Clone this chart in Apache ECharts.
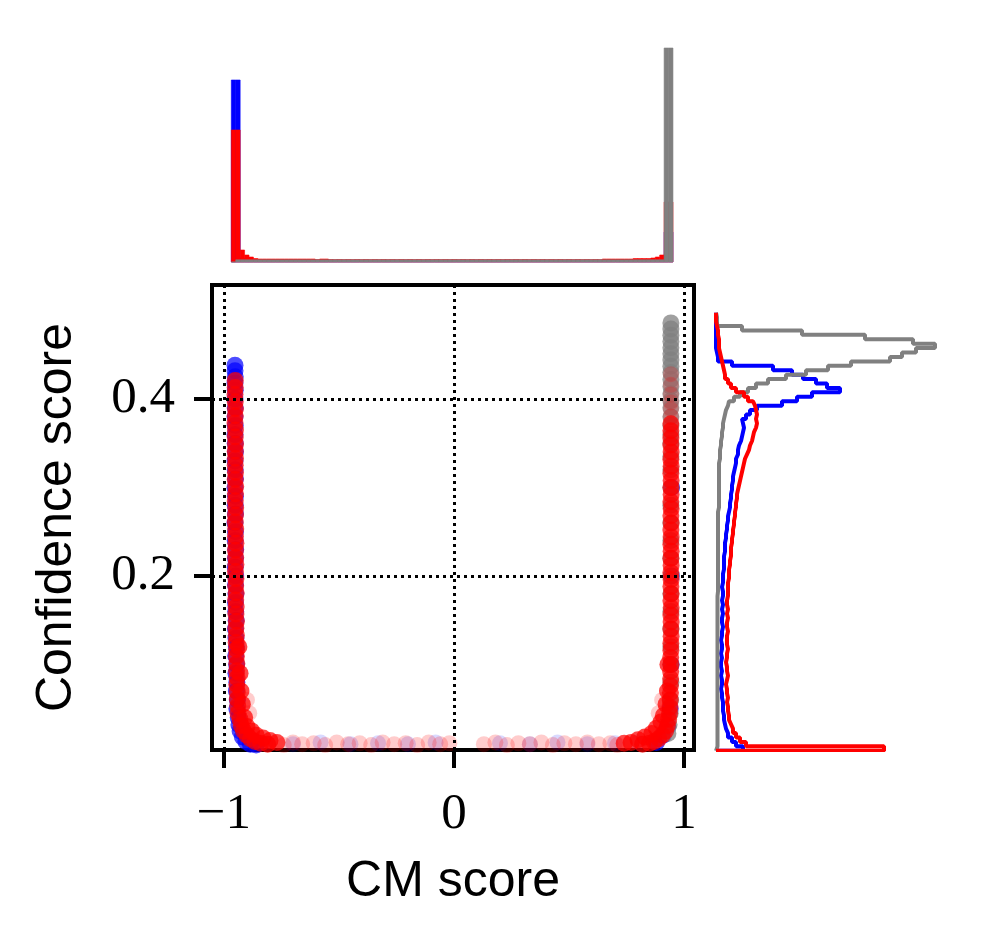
<!DOCTYPE html>
<html><head><meta charset="utf-8">
<script src="https://cdn.jsdelivr.net/npm/echarts@6/dist/echarts.min.js"></script>
<style>html,body{margin:0;padding:0;background:#fff}#c{width:984px;height:946px}</style>
</head><body><div id="c"></div>
<script>
// ---------- texts / ticks ----------
const xTicks = [-1, 0, 1];
const xTickLabels = ['\u22121', '0', '1'];
const yTicks = [0.2, 0.4];
const yTickLabels = ['0.2', '0.4'];
const xTitle = 'CM score';
const yTitle = 'Confidence score';

// ---------- scatter points [CM score, confidence] ----------
const blueMain = [[-0.952,0.438],[-0.952,0.432],[-0.951,0.425],[-0.952,0.418],[-0.951,0.41],[-0.952,0.40],[-0.951,0.39],[-0.952,0.38],[-0.951,0.37],[-0.952,0.36],[-0.951,0.35],[-0.95,0.34],[-0.952,0.33],[-0.951,0.32],[-0.95,0.31],[-0.952,0.30],[-0.95,0.29],[-0.951,0.28],[-0.95,0.27],[-0.952,0.26],[-0.95,0.25],[-0.951,0.24],[-0.949,0.23],[-0.95,0.22],[-0.951,0.21],[-0.949,0.20],[-0.95,0.19],[-0.948,0.18],[-0.95,0.17],[-0.949,0.16],[-0.947,0.15],[-0.95,0.14],[-0.948,0.13],[-0.946,0.12],[-0.949,0.11],[-0.945,0.10],[-0.948,0.09],[-0.944,0.08],[-0.946,0.07],[-0.942,0.06],[-0.944,0.05],[-0.938,0.04],[-0.935,0.032],[-0.93,0.025],[-0.92,0.018],[-0.905,0.013],[-0.885,0.01],[-0.86,0.009],[0.946,0.30],[0.945,0.2],[0.944,0.1],[0.94,0.05],[0.93,0.03],[0.91,0.02],[0.88,0.012]];
const blueTail = [[-0.82,0.011],[-0.7,0.01],[-0.58,0.012],[-0.45,0.01],[-0.33,0.011],[-0.2,0.01],[-0.08,0.012],[0.2,0.011],[0.33,0.01],[0.45,0.012],[0.58,0.01],[0.7,0.011],[0.8,0.012]];
const grayMain = [[0.943,0.486],[0.943,0.479],[0.943,0.472],[0.943,0.465],[0.943,0.458],[0.943,0.451],[0.943,0.444],[0.943,0.437],[0.943,0.43],[0.943,0.422],[0.943,0.414],[0.943,0.406],[0.943,0.398],[0.943,0.39],[0.943,0.38],[0.943,0.37],[0.943,0.36],[0.943,0.35],[0.943,0.335],[0.943,0.32],[0.943,0.30],[0.943,0.28],[0.943,0.26],[0.943,0.24],[0.943,0.22],[0.943,0.20],[0.943,0.18],[0.943,0.16],[0.943,0.14],[0.943,0.12],[0.943,0.10],[0.943,0.08],[0.942,0.06],[0.94,0.045],[0.935,0.032],[0.93,0.022]];
const redMain = [[-0.951,0.421],[-0.951,0.413],[-0.952,0.405],[-0.951,0.397],[-0.95,0.389],[-0.951,0.381],[-0.952,0.373],[-0.95,0.365],[-0.951,0.357],[-0.95,0.349],[-0.951,0.341],[-0.95,0.333],[-0.951,0.325],[-0.95,0.317],[-0.951,0.309],[-0.949,0.301],[-0.95,0.293],[-0.951,0.285],[-0.949,0.277],[-0.95,0.269],[-0.951,0.261],[-0.949,0.253],[-0.95,0.245],[-0.948,0.237],[-0.95,0.229],[-0.949,0.221],[-0.948,0.213],[-0.95,0.205],[-0.948,0.197],[-0.949,0.189],[-0.947,0.181],[-0.949,0.173],[-0.947,0.165],[-0.948,0.157],[-0.946,0.149],[-0.948,0.141],[-0.946,0.133],[-0.947,0.125],[-0.945,0.117],[-0.946,0.109],[-0.944,0.101],[-0.945,0.093],[-0.943,0.085],[-0.944,0.077],[-0.942,0.069],[-0.942,0.061],[-0.94,0.053],[-0.939,0.045],[-0.93,0.038],[-0.925,0.031],[-0.915,0.025],[-0.9,0.02],[-0.885,0.016],[-0.865,0.013],[-0.84,0.011],[-0.81,0.01],[-0.935,0.12],[-0.93,0.09],[-0.926,0.07],[-0.92,0.055],[-0.91,0.04],[-0.9,0.03],[-0.88,0.025],[-0.86,0.02],[-0.83,0.017],[-0.8,0.014],[-0.77,0.012],
[0.943,0.372],[0.943,0.364],[0.943,0.356],[0.943,0.348],[0.944,0.340],[0.943,0.332],[0.944,0.324],[0.943,0.316],[0.944,0.308],[0.943,0.300],[0.944,0.292],[0.943,0.284],[0.944,0.276],[0.943,0.268],[0.944,0.260],[0.943,0.252],[0.944,0.244],[0.943,0.236],[0.944,0.228],[0.943,0.220],[0.944,0.212],[0.943,0.204],[0.944,0.196],[0.943,0.188],[0.944,0.180],[0.943,0.172],[0.944,0.164],[0.943,0.156],[0.944,0.148],[0.943,0.140],[0.944,0.132],[0.943,0.124],[0.943,0.116],[0.942,0.108],[0.943,0.100],[0.942,0.092],[0.942,0.084],[0.941,0.076],[0.941,0.068],[0.94,0.060],[0.939,0.052],[0.937,0.045],[0.933,0.038],[0.928,0.031],[0.92,0.025],[0.905,0.02],[0.89,0.016],[0.87,0.013],[0.85,0.011],[0.82,0.01],[0.93,0.1],[0.928,0.07],[0.922,0.055],[0.91,0.042],[0.9,0.035],[0.88,0.028],[0.86,0.022],[0.83,0.018],[0.8,0.015],[0.77,0.012],[0.74,0.011]];
const redFaint = [[0.943,0.428],[0.943,0.416],[0.943,0.405],[0.943,0.396],[0.943,0.388],[0.943,0.38],[-0.74,0.009],[-0.7,0.012],[-0.66,0.01],[-0.61,0.011],[-0.56,0.009],[-0.51,0.012],[-0.46,0.01],[-0.41,0.011],[-0.36,0.009],[-0.31,0.012],[-0.26,0.01],[-0.21,0.011],[-0.16,0.009],[-0.11,0.012],[-0.06,0.01],[-0.02,0.011],[0.13,0.01],[0.18,0.012],[0.23,0.009],[0.28,0.011],[0.33,0.01],[0.38,0.012],[0.43,0.009],[0.48,0.011],[0.53,0.01],[0.58,0.012],[0.63,0.01],[0.68,0.011],[0.71,0.009],[-0.9,0.06],[-0.89,0.045],[0.905,0.06],[0.89,0.045]];

// ---------- top histogram (CM score) ----------
const topBinStart = -0.968, topBinWidth = 0.0192;
const topBlue = [182,182,4,3,1.8,1.8,1.8,1.8,1.8,1.8, 1.8,1.8,1.8,1.8,1.8,1.8,1.8,1.8,1.8,1.8, 1.8,1.8,1.8,1.8,1.8,1.8,1.8,1.8,1.8,1.8, 1.8,1.8,1.8,1.8,1.8,1.8,1.8,1.8,1.8,1.8, 1.8,1.8,1.8,1.8,1.8,1.8,1.8,1.8,1.8,1.8, 1.8,1.8,1.8,1.8,1.8,1.8,1.8,1.8,1.8,1.8, 1.8,1.8,1.8,1.8,1.8,1.8,1.8,1.8,1.8,1.8, 1.8,1.8,1.8,1.8,1.8,1.8,1.8,1.8,1.8,1.8, 1.8,1.8,1.8,1.8,1.8,1.8,1.8,1.8,1.8,1.8, 1.8,1.8,1.8,1.8,1.8,1.8,1.8,1.8,30,30];
const topRed = [132,132,12,7,5,3.5,3,3,3,3, 3,3,3,3,3,3,3,3,3,2.5, 3,3,2.5,2.4,2.5,2.4,2.5,2.4,2.5,2.4, 2.5,2.4,2.5,2.4,2.5,2.4,2.5,2.4,2.5,2.4, 2.5,2.4,2.5,2.4,2.5,2.4,2.5,2.4,2.5,2.4, 2.5,2.4,2.5,2.4,2.5,2.4,2.5,2.4,2.5,2.4, 2.5,2.4,2.5,2.4,2.5,2.4,2.5,2.4,2.5,2.4, 2.5,2.4,2.5,2.4,2.5,2.4,2.5,2.4,2.5,2.4, 2.5,2.4,2.5,2.4,3,3,3,3,3,3, 3,3.5,3.5,3.5,3.5,4,5,7,60,60];
const topGray = [0,2.2,2.2,2.2,2.2,2.2,2.2,2.2,2.2,2.2, 2.2,2.2,2.2,2.2,2.2,2.2,2.2,2.2,2.2,2.2, 2.2,2.2,2.2,2.2,2.2,2.2,2.2,2.2,2.2,2.2, 2.2,2.2,2.2,2.2,2.2,2.2,2.2,2.2,2.2,2.2, 2.2,2.2,2.2,2.2,2.2,2.2,2.2,2.2,2.2,2.2, 2.2,2.2,2.2,2.2,2.2,2.2,2.2,2.2,2.2,2.2, 2.2,2.2,2.2,2.2,2.2,2.2,2.2,2.2,2.2,2.2, 2.2,2.2,2.2,2.2,2.2,2.2,2.2,2.2,2.2,2.2, 2.2,2.2,2.2,2.2,2.2,2.2,2.2,2.2,2.2,2.2, 2.2,2.2,2.2,2.2,2.2,2.2,2.2,2.2,214,214];

// ---------- right histogram (confidence), bins from bottom ----------
const rightBinStart = 0.0025, rightBinWidth = 0.005;
const rightGray = [1.5,1.5,1.5,1.5,1.5,1.5,1.5,1.5,1.5,1.5, 1.5,1.5,1.5,1.5,1.5,1.5,1.5,1.5,1.5,1.5, 1.5,1.5,1.5,1.5,1.5,1.5,1.5,1.5,1.5,1.5, 1.5,1.5,1.5,1.5,1.5,2,2,2,2,2, 2,2,2,2,2,2,2,2,2,2, 2,2,2,2,3,3,3,3,3,3, 3,3,3,3,3,4,4,4,5,5, 6,6,7,7,8,9,10,12,13,18, 24,32,40,52,70,90,112,135,174,186, 200,219,197,149,86,26,1,1,0];
const rightBlue = [27,20,16,12,10,9,8,8,7,7, 7,6,6,5,6,6,5,6,5,5, 6,5,6,6,5,6,6,7,6,6, 7,6,7,6,7,7,6,7,7,7, 8,8,8,8,9,9,9,10,10,11, 11,12,12,13,14,14,15,15,16,16, 17,17,18,19,20,20,22,22,23,25, 26,27,28,27,26,30,34,41,66,81, 96,124,111,100,87,76,57,16,2,1, 0,0,0,0,0,0,0,0,0];
const rightRed = [168,30,24,20,17,15,13,13,12,12, 11,12,11,11,10,11,12,11,11,10, 11,11,12,11,11,11,12,11,11,12, 11,12,11,11,12,12,12,12,13,13, 13,14,14,15,15,15,16,16,17,17, 18,18,19,19,20,20,21,21,22,23, 24,25,26,27,28,29,31,33,34,36, 37,38,40,41,40,41,40,39,37,32, 28,20,15,12,9,8,7,6,5,4, 3,3,3,2,2,1,0,0,0];

// ---------- helpers building library inputs ----------
function topBars(counts){
  return counts.map((c,j)=>[topBinStart+j*topBinWidth, topBinStart+(j+1)*topBinWidth, c]);
}
function stepOutline(counts){
  const pts=[[0,rightBinStart]];
  counts.forEach((c,k)=>{const lo=rightBinStart+k*rightBinWidth; pts.push([c,lo],[c,lo+rightBinWidth]);});
  pts.push([0,rightBinStart+counts.length*rightBinWidth]);
  return pts;
}
function pick(ticks, labels, v){
  let best=0; ticks.forEach((t,i)=>{ if(Math.abs(t-v)<Math.abs(ticks[best]-v)) best=i; });
  return labels[best];
}
function barSeries(counts,color,name){
  return {name, type:'custom', xAxisIndex:1, yAxisIndex:1, data:topBars(counts), encode:{x:[0,1],y:2},
    silent:true,
    renderItem:(params,api)=>{
      const p0=api.coord([api.value(0),api.value(2)]);
      const p1=api.coord([api.value(1),0]);
      return {type:'rect', shape:{x:p0[0],y:p0[1],width:p1[0]-p0[0],height:p1[1]-p0[1]},
        style:{fill:color, stroke:color, lineWidth:0.6}};
    }};
}
function stepSeries(counts,color,name){
  return {name, type:'line', xAxisIndex:2, yAxisIndex:2, data:stepOutline(counts), showSymbol:false,
    symbol:'none', clip:true, silent:true, lineStyle:{color:color, width:4}};
}

const X_MIN=-1.052, X_MAX=1.0435, Y_MIN=0.0034, Y_MAX=0.5288;
const serif='"Liberation Serif", "DejaVu Serif", serif';
const sans='"Liberation Sans", Arial, sans-serif';
const gridDots={type:[3,4], width:3, color:'#000'};
const dotStyle=(c,o)=>({color:c, opacity:o});

const option = {
  animation:false,
  backgroundColor:'#fff',
  grid:[
    {left:212, top:285, width:482, height:465, show:true, borderColor:'#000', borderWidth:4, backgroundColor:'transparent'},
    {left:212, top:37, width:482, height:225},
    {left:716, top:285, width:230, height:465}
  ],
  xAxis:[
    {type:'value', gridIndex:0, position:'bottom', min:X_MIN, max:X_MAX, axisLine:{show:false, onZero:false}, splitLine:{show:false},
     axisTick:{show:true, customValues:xTicks, length:18, lineStyle:{width:4,color:'#000'}},
     axisLabel:{customValues:xTicks, formatter:v=>pick(xTicks,xTickLabels,v), fontFamily:serif, fontSize:51, color:'#000', margin:39},
     name:xTitle, nameLocation:'middle', nameGap:107, nameTextStyle:{fontFamily:sans, fontSize:50, color:'#000'}},
    {type:'value', gridIndex:1, min:X_MIN, max:X_MAX, show:false},
    {type:'value', gridIndex:2, min:0, max:230, show:false}
  ],
  yAxis:[
    {type:'value', gridIndex:0, position:'left', min:Y_MIN, max:Y_MAX, axisLine:{show:false, onZero:false}, splitLine:{show:false},
     axisTick:{show:true, customValues:yTicks, length:18, lineStyle:{width:4,color:'#000'}},
     axisLabel:{customValues:yTicks, formatter:v=>pick(yTicks,yTickLabels,v), fontFamily:serif, fontSize:51, color:'#000', margin:37},
     name:yTitle, nameLocation:'middle', nameGap:130, nameRotate:90, nameTextStyle:{fontFamily:sans, fontSize:50, color:'#000'}},
    {type:'value', gridIndex:1, min:0, max:225, show:false},
    {type:'value', gridIndex:2, min:Y_MIN, max:Y_MAX, show:false}
  ],
  series:[
    {name:'blue', type:'scatter', xAxisIndex:0, yAxisIndex:0, data:blueMain, symbolSize:17,
     itemStyle:dotStyle('#0000ff',0.7), silent:true,
     markLine:{silent:true, symbol:['none','none'], label:{show:false}, lineStyle:gridDots,
       data:xTicks.map(v=>({xAxis:v})).concat(yTicks.map(v=>({yAxis:v})))}},
    {name:'blueTail', type:'scatter', xAxisIndex:0, yAxisIndex:0, data:blueTail, symbolSize:16,
     itemStyle:dotStyle('#0000ff',0.15), silent:true},
    {name:'gray', type:'scatter', xAxisIndex:0, yAxisIndex:0, data:grayMain, symbolSize:17,
     itemStyle:dotStyle('#808080',0.75), silent:true},
    {name:'red', type:'scatter', xAxisIndex:0, yAxisIndex:0, data:redMain, symbolSize:17,
     itemStyle:dotStyle('#ff0000',0.72), silent:true},
    {name:'redFaint', type:'scatter', xAxisIndex:0, yAxisIndex:0, data:redFaint, symbolSize:16,
     itemStyle:dotStyle('#ff0000',0.2), silent:true},
    barSeries(topBlue,'#0000ff','topBlue'),
    barSeries(topRed,'#ff0000','topRed'),
    barSeries(topGray,'#808080','topGray'),
    stepSeries(rightBlue,'#0000ff','rightBlue'),
    stepSeries(rightGray,'#808080','rightGray'),
    stepSeries(rightRed,'#ff0000','rightRed')
  ]
};
const chart = echarts.init(document.getElementById('c'), null, {renderer:'canvas'});
chart.setOption(option);
</script>
</body></html>
